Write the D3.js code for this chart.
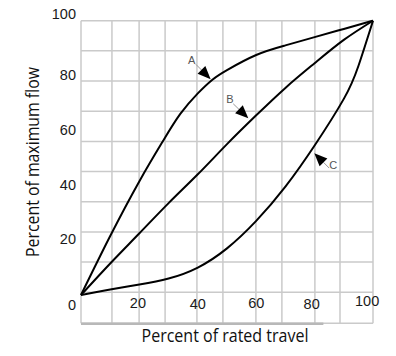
<!DOCTYPE html>
<html>

<head>
    <meta charset="UTF-8" />
    <title>flow characteristic</title>
    <style>
        body {
            margin: 0;
            padding: 0;
            background: #fff;
        }

        svg {
            display: block;
        }
    </style>
</head>

<body>
    <div class="container"></div>

    <script src="https://cdnjs.cloudflare.com/ajax/libs/d3/7.8.5/d3.min.js"></script>
    <script>
        // curves: [percent travel, percent flow]
        const curveA = [[0, 0], [10, 21.5], [20, 41.5], [28, 56], [34, 66], [40, 73.5], [45, 78.5], [50, 82], [60, 87.5], [70, 91], [80, 94], [90, 97], [100, 100]]
        const curveB = [[0, 0], [10, 11.5], [20, 22.5], [30, 33.5], [40, 44], [50, 55], [60, 65.5], [70, 75.5], [80, 84.5], [90, 93], [100, 100]]
        const curveC = [[0, 0], [10, 2], [20, 3.8], [30, 6], [40, 10], [50, 17], [60, 27], [70, 39.5], [80, 54.5], [90, 71.5], [95, 83.5], [100, 100]]

        const xTicks = [20, 40, 60, 80, 100]
        const yTicks = [0, 20, 40, 60, 80, 100]
        // where the labels actually sit in the scan (data units)
        const xTickPos = [19.5, 40, 60, 79, 98]
        const yTickPos = [-3.6, 20.4, 40.1, 60.2, 80.2, 102.4]

        // the scanned grid is a bit uneven
        const gridX = [0, 10.6, 19.9, 28.8, 39.7, 48.6, 59.9, 68.8, 80.1, 88.7, 100]
        const gridY = [100, 89, 78, 67, 56, 45, 34, 23, 12, 1, -10.3]

        const arrowLabels = ['A', 'B', 'C']
        const arrowTips = [[44.4, 78.7], [57.3, 64.4], [79.9, 51.7]]
        const arrowAngles = [45, 44, 225]   // direction the arrow points, degrees
        const labelPos = [[37.9, 85.7], [51, 71.5], [86.4, 47.4]]

        const width = 396, height = 356

        const svg = d3.select('.container').append('svg')
            .attr('width', width)
            .attr('height', height)

        const x = d3.scaleLinear().domain([0, 100]).range([81, 373])
        const y = d3.scaleLinear().domain([0, 100]).range([295, 20.7])

        const grid = svg.append('g')
            .attr('stroke', '#cacaca')
            .attr('stroke-width', 1.5)

        grid.selectAll('.gx')
            .data(gridX)
            .join('line')
            .attr('x1', d => x(d)).attr('x2', d => x(d))
            .attr('y1', y(100)).attr('y2', y(-10.3))

        grid.selectAll('.gy')
            .data(gridY)
            .join('line')
            .attr('x1', x(0)).attr('x2', x(100))
            .attr('y1', d => y(d)).attr('y2', d => y(d))

        // darker bottom rule
        svg.append('line')
            .attr('x1', x(0)).attr('x2', x(83))
            .attr('y1', y(-10.3) + 0.5).attr('y2', y(-10.3) + 0.5)
            .attr('stroke', '#b8b8b8')
            .attr('stroke-width', 2.5)

        const line = d3.line()
            .x(d => x(d[0]))
            .y(d => y(d[1]))
            .curve(d3.curveNatural)

        svg.append('g')
            .selectAll('path')
            .data([curveA, curveB, curveC])
            .join('path')
            .attr('d', line)
            .attr('fill', 'none')
            .attr('stroke', '#000')
            .attr('stroke-width', 2)

        // arrows with letters
        const arrows = svg.append('g')
        arrowLabels.forEach((lab, i) => {
            const tx = x(arrowTips[i][0]), ty = y(arrowTips[i][1])
            const a = arrowAngles[i] * Math.PI / 180
            const ux = Math.cos(a), uy = Math.sin(a)
            const len = 13, half = 5.5
            const bx = tx - ux * len, by = ty - uy * len
            const lx = x(labelPos[i][0]), ly = y(labelPos[i][1])

            arrows.append('line')
                .attr('x1', bx).attr('y1', by)
                .attr('x2', bx - ux * 8).attr('y2', by - uy * 8)
                .attr('stroke', '#999')
                .attr('stroke-width', 1)

            arrows.append('path')
                .attr('d', `M${tx},${ty}L${bx - uy * half},${by + ux * half}L${bx + uy * half},${by - ux * half}Z`)
                .attr('fill', '#000')

            arrows.append('text')
                .attr('x', lx).attr('y', ly)
                .attr('dy', '0.35em')
                .attr('text-anchor', 'middle')
                .attr('font-family', 'Liberation Sans, Arial, sans-serif')
                .attr('font-size', 11)
                .attr('fill', '#555')
                .text(lab)
        })

        // tick labels
        svg.append('g')
            .selectAll('text')
            .data(yTicks)
            .join('text')
            .attr('x', 76)
            .attr('y', (d, i) => y(yTickPos[i]))
            .attr('dy', '0.36em')
            .attr('text-anchor', 'end')
            .attr('font-family', 'Liberation Sans, Arial, sans-serif')
            .attr('font-size', 14.5)
            .attr('fill', '#1a1a1a')
            .text(d => d)

        svg.append('g')
            .selectAll('text')
            .data(xTicks)
            .join('text')
            .attr('x', (d, i) => x(xTickPos[i]))
            .attr('y', (d, i) => i === 4 ? 301 : (i % 2 ? 304 : 303))
            .attr('dy', '0.36em')
            .attr('text-anchor', 'middle')
            .attr('font-family', 'Liberation Sans, Arial, sans-serif')
            .attr('font-size', 14.5)
            .attr('fill', '#1a1a1a')
            .text(d => d)

        // axis titles
        svg.append('text')
            .attr('x', 225)
            .attr('y', 342)
            .attr('text-anchor', 'middle')
            .attr('font-family', 'Open Sans, sans-serif')
            .attr('font-size', 18)
            .attr('textLength', 167)
            .attr('lengthAdjust', 'spacingAndGlyphs')
            .attr('fill', '#111')
            .text('Percent of rated travel')

        svg.append('text')
            .attr('transform', 'translate(39,162) rotate(-90)')
            .attr('text-anchor', 'middle')
            .attr('font-family', 'Open Sans, sans-serif')
            .attr('font-size', 18)
            .attr('textLength', 190)
            .attr('lengthAdjust', 'spacingAndGlyphs')
            .attr('fill', '#111')
            .text('Percent of maximum flow')
    </script>
</body>

</html>
